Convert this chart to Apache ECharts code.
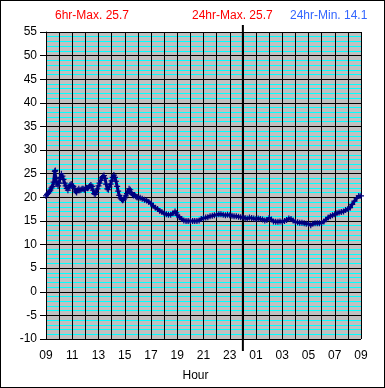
<!DOCTYPE html>
<html><head><meta charset="utf-8">
<script src="https://cdn.jsdelivr.net/npm/echarts@6/dist/echarts.min.js"></script>
<style>
html,body{margin:0;padding:0;background:#fff;}
#c{width:385px;height:388px;box-sizing:border-box;border:1px solid #000;}
</style></head><body>
<div id="c"></div>
<script>
// hours since 09:00
const hours = [0.00,0.08,0.17,0.25,0.33,0.42,0.50,0.58,0.67,0.71,0.75,0.83,0.92,1.00,1.08,1.17,1.25,1.33,1.42,1.50,1.58,1.67,1.75,1.83,1.92,2.00,2.08,2.17,2.25,2.33,2.42,2.50,2.58,2.67,2.75,2.83,2.92,3.00,3.08,3.17,3.25,3.33,3.42,3.50,3.58,3.67,3.75,3.83,3.92,4.00,4.08,4.17,4.25,4.33,4.42,4.50,4.58,4.67,4.75,4.83,4.92,5.00,5.08,5.17,5.25,5.33,5.42,5.50,5.58,5.67,5.75,5.83,5.92,6.00,6.08,6.17,6.25,6.33,6.42,6.50,6.58,6.67,6.75,6.83,6.92,7.00,7.17,7.33,7.50,7.67,7.83,8.00,8.17,8.33,8.50,8.67,8.83,9.00,9.17,9.33,9.50,9.67,9.83,9.92,10.00,10.17,10.33,10.50,10.67,10.83,11.00,11.17,11.33,11.50,11.67,11.83,12.00,12.17,12.33,12.50,12.67,12.83,13.00,13.17,13.33,13.50,13.67,13.83,14.00,14.17,14.33,14.50,14.67,14.83,15.00,15.17,15.33,15.50,15.67,15.83,16.00,16.17,16.33,16.50,16.67,16.83,17.00,17.17,17.33,17.50,17.67,17.83,18.00,18.17,18.33,18.50,18.67,18.83,19.00,19.17,19.33,19.50,19.67,19.83,20.00,20.17,20.33,20.50,20.67,20.83,21.00,21.17,21.33,21.50,21.67,21.83,22.00,22.17,22.33,22.50,22.67,22.83,23.00,23.17,23.33,23.50,23.67,23.83,24.00];
const temps = [20.3,20.6,20.9,21.2,21.5,22.0,22.3,23.2,25.5,25.7,24.0,22.8,22.4,23.0,24.2,25.0,24.5,23.8,23.0,22.4,21.9,21.5,22.0,22.6,22.8,22.5,22.3,21.9,21.3,21.0,21.5,21.8,21.5,21.6,21.8,21.8,21.6,21.8,22.0,21.9,22.1,22.4,22.6,22.3,21.5,20.8,20.6,21.0,21.8,22.4,23.0,23.6,24.1,24.4,24.6,24.0,22.8,21.8,21.6,22.2,22.8,23.5,24.2,24.7,24.2,23.4,22.3,21.3,20.4,19.9,19.6,19.4,19.5,19.9,20.3,20.8,21.3,21.8,21.6,21.0,20.6,20.4,20.5,20.2,20.0,20.0,19.9,19.7,19.5,19.3,19.0,18.7,18.2,17.8,17.5,17.1,16.9,16.6,16.4,16.3,16.3,16.6,17.0,16.7,16.2,15.8,15.4,15.1,15.0,15.0,15.0,15.0,15.0,15.0,15.1,15.4,15.6,15.7,15.8,16.0,16.1,16.2,16.3,16.4,16.4,16.3,16.2,16.3,16.2,16.1,16.0,16.0,15.9,15.8,15.8,15.6,15.5,15.7,15.6,15.5,15.4,15.5,15.4,15.3,15.1,15.2,15.6,15.3,14.9,14.8,14.8,14.9,14.8,15.0,15.2,15.5,15.4,15.1,14.8,14.7,14.6,14.6,14.5,14.4,14.4,14.1,14.4,14.5,14.5,14.5,14.6,14.9,15.3,15.7,16.0,16.2,16.4,16.6,16.8,16.9,17.0,17.3,17.5,17.8,18.5,19.2,19.8,20.3,20.3];
const startHour = 9;
const midnightOffset = 15;
const yTicks = [-10, 55, 5];
const headerTexts = ['6hr-Max. 25.7', '24hr-Max. 25.7', '24hr-Min. 14.1'];
const xAxisName = 'Hour';

const chart = echarts.init(document.getElementById('c'), null, {renderer: 'canvas'});
const data = hours.map((h, i) => [h, temps[i]]);
const font = 'Liberation Sans, Arial, sans-serif';
const pad = n => (n < 10 ? '0' : '') + n;
const tStyle = c => ({color: c, fontSize: 12, fontWeight: 'normal', fontFamily: font});

chart.setOption({
  animation: false,
  backgroundColor: '#fff',
  title: [
    {text: headerTexts[0], left: 54, top: 9, padding: 0, textStyle: tStyle('#ff0000')},
    {text: headerTexts[1], left: 191, top: 9, padding: 0, textStyle: tStyle('#ff0000')},
    {text: headerTexts[2], left: 289, top: 9, padding: 0, textStyle: tStyle('#3366ff')}
  ],
  grid: {left: 45, right: 23, top: 31, bottom: 46, show: true, backgroundColor: '#c0c0c0', borderWidth: 0},
  xAxis: {
    type: 'value', min: 0, max: 24, interval: 2, z: 3,
    name: xAxisName, nameLocation: 'middle', nameGap: 31,
    nameTextStyle: {color: '#000', fontSize: 12, fontFamily: font, padding: [0, 16, 0, 0]},
    axisLine: {show: true, lineStyle: {color: '#000', width: 1}},
    axisTick: {show: true, length: 4, lineStyle: {color: '#000'}},
    axisLabel: {color: '#000', fontSize: 12, fontFamily: font, margin: 11,
      formatter: v => pad((startHour + v) % 24)},
    splitLine: {show: true, lineStyle: {color: '#000', width: 1}},
    minorTick: {show: false, splitNumber: 2},
    minorSplitLine: {show: true, lineStyle: {color: '#000', width: 1}}
  },
  yAxis: {
    type: 'value', min: yTicks[0], max: yTicks[1], interval: yTicks[2], z: 1,
    axisLine: {show: true, lineStyle: {color: '#000', width: 1}},
    axisTick: {show: true, length: 6, lineStyle: {color: '#000'}},
    axisLabel: {color: '#000', fontSize: 12, fontFamily: font, margin: 9},
    splitLine: {show: true, lineStyle: {color: '#000', width: 1}},
    minorTick: {show: false, splitNumber: 5},
    minorSplitLine: {show: true, lineStyle: {color: '#00ffff', width: 1}}
  },
  series: [
    {
      type: 'custom', z: 4, clip: false, silent: true,
      data: [[midnightOffset]],
      renderItem: (params, api) => {
        const top = api.coord([api.value(0), yTicks[1]]);
        const bot = api.coord([api.value(0), yTicks[0]]);
        return {type: 'line', shape: {x1: top[0], y1: top[1] - 7, x2: bot[0], y2: bot[1] + 12},
          style: {stroke: '#000', lineWidth: 2}};
      }
    },
    {
      type: 'line', z: 5, data: data,
      symbol: 'path://M2,0H3V2H5V3H3V5H2V3H0V2H2Z', symbolSize: 6,
      itemStyle: {color: '#000080'},
      lineStyle: {color: '#000080', width: 3}
    }
  ]
});
</script></body></html>
